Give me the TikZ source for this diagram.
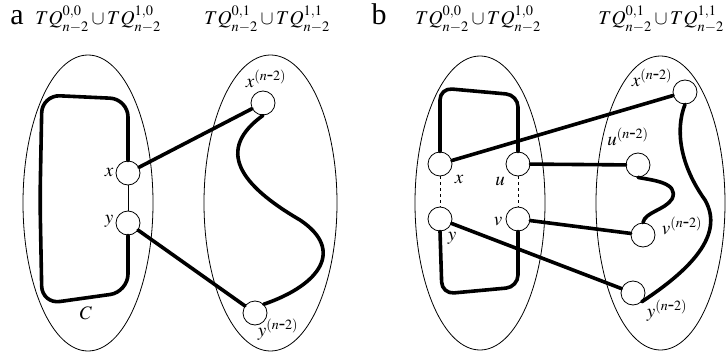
\documentclass[tikz,border=0pt]{standalone}
\usepackage{mathptmx}
\usepackage[no-math]{fontspec}
\setmainfont{Liberation Serif}
\usetikzlibrary{positioning}
\newcommand{\nm}{(n\mbox{-}2)}
\begin{document}
\begin{tikzpicture}[x=1pt,y=-1pt,
  vtx/.style={circle, draw, fill=white, line width=0.8pt, minimum size=24pt, inner sep=0pt},
  part/.style={draw, line width=0.8pt},
  ham/.style={line width=3.6pt, line cap=round, line join=round},
  link/.style={line width=0.8pt},
  lbl/.style={inner sep=0pt, font=\fontsize{19}{21}\selectfont},
  head/.style={inner sep=0pt, anchor=base, font=\fontsize{19.5}{22}\selectfont},
  tag/.style={inner sep=0pt, anchor=base, font=\fontsize{30}{32}\selectfont}]
\useasboundingbox (0,0) rectangle (726,353);
% panel a
\node[tag] (ta) at (17,25) {a};
\node[head] (ha1) at (98,25) {$TQ^{0,0}_{n-2}\cup TQ^{1,0}_{n-2}$};
\node[head] (ha2) at (267,25) {$TQ^{0,1}_{n-2}\cup TQ^{1,1}_{n-2}$};
\draw[part] (88,203) ellipse [x radius=65, y radius=148];
\draw[part] (270.5,203) ellipse [x radius=66.5, y radius=148];
\node[vtx] (xa) at (128,173) {};
\node[vtx] (ya) at (128,223) {};
\node[vtx] (xpa) at (263,103) {};
\node[vtx] (ypa) at (255,313) {};
\node[lbl] (lxa) at (109,172) {$x$};
\node[lbl] (lya) at (109,221) {$y$};
\node[lbl] (lca) at (86,313) {$C$};
\node[lbl] (lxpa) at (266,79) {$x^{\nm}$};
\node[lbl] (lypa) at (278,330) {$y^{\nm}$};
\draw[link] (xa) -- (ya);
\draw[ham, rounded corners=18pt] (xa.north) -- (128,99) -- (42,95) -- (40,200) -- (42,304) -- (128,292) -- (ya.south);
\draw[ham] (xa) -- (xpa);
\draw[ham] (ya) -- (ypa);
\draw[ham] (xpa.south) .. controls (215,150) and (240,185) .. (300,220)
  .. controls (345,250) and (320,285) .. (ypa.north east);
% panel b
\node[tag] (tb) at (379,25) {b};
\node[head] (hb1) at (478,25) {$TQ^{0,0}_{n-2}\cup TQ^{1,0}_{n-2}$};
\node[head] (hb2) at (661,25) {$TQ^{0,1}_{n-2}\cup TQ^{1,1}_{n-2}$};
\draw[part] (480,203) ellipse [x radius=65, y radius=147];
\draw[part] (660.5,203) ellipse [x radius=64.5, y radius=147];
\node[vtx] (xb) at (440,164) {};
\node[vtx] (ub) at (518,164) {};
\node[vtx] (yb) at (440,219) {};
\node[vtx] (vb) at (518,219) {};
\node[vtx] (xpb) at (685,92) {};
\node[vtx] (upb) at (638,165) {};
\node[vtx] (vpb) at (643,235) {};
\node[vtx] (ypb) at (633,293) {};
\node[lbl] (lxb) at (459,179) {$x$};
\node[lbl] (lub) at (500,181) {$u$};
\node[lbl] (lyb) at (452,238) {$y$};
\node[lbl] (lvb) at (498,222) {$v$};
\node[lbl] (lxpb) at (652,78) {$x^{\nm}$};
\node[lbl] (lupb) at (628,137) {$u^{\nm}$};
\node[lbl] (lvpb) at (682,226) {$v^{\nm}$};
\node[lbl] (lypb) at (667,311) {$y^{\nm}$};
\draw[link, dashed] (xb) -- (yb);
\draw[link, dashed] (ub) -- (vb);
\draw[ham, rounded corners=12pt] (xb.north) -- (440,88) -- (518,95) -- (ub.north);
\draw[ham, rounded corners=12pt] (yb.south) -- (442,294) -- (518,287) -- (vb.south);
\draw[ham] (xb) -- (xpb);
\draw[ham] (ub) -- (upb);
\draw[ham] (vb) -- (vpb);
\draw[ham] (yb) -- (ypb);
\draw[ham] (upb.south) .. controls (650,180) and (680,182) .. (672,199)
  .. controls (665,210) and (645,212) .. (vpb.north);
\draw[ham] (xpb.south) .. controls (675,130) and (680,165) .. (705,200)
  .. controls (725,235) and (690,270) .. (ypb.south east);
\end{tikzpicture}
\end{document}
